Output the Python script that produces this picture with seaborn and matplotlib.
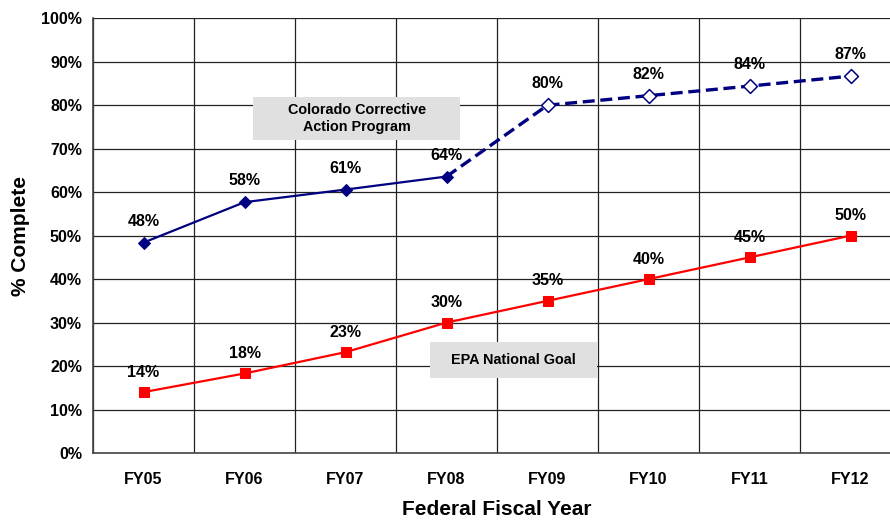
import numpy as np
import pandas as pd
import matplotlib
matplotlib.use("Agg")
import matplotlib.pyplot as plt
from matplotlib.patches import Rectangle
import seaborn as sns

# chart data
years = ["FY05", "FY06", "FY07", "FY08", "FY09", "FY10", "FY11", "FY12"]
colorado = [48.4, 57.7, 60.6, 63.6, 80.0, 82.2, 84.4, 86.7]
epa_goal = [14.0, 18.3, 23.2, 30.0, 35.0, 40.0, 45.0, 50.0]
actual_years = 4  # FY05-FY08 are actuals, the rest projected
y_ticks = list(range(0, 101, 10))

sns.set_style("white")
plt.rcParams["font.family"] = ["Liberation Sans", "DejaVu Sans"]
plt.rcParams["font.weight"] = "bold"
for key in ["text.color", "axes.labelcolor", "xtick.labelcolor", "ytick.labelcolor"]:
    plt.rcParams[key] = "black"

idx = np.arange(len(years))
df = pd.DataFrame({"pos": idx, "year": years, "colorado": colorado, "epa": epa_goal})
actual = df.iloc[:actual_years]
projected = df.iloc[actual_years - 1:]

fig = plt.figure(figsize=(8.9, 5.21), dpi=100)
ax = fig.add_axes([0.1045, 0.1305, 0.9079, 0.8344])

navy = "#000080"
red = "#FF0000"

# EPA goal
sns.lineplot(data=df, x="pos", y="epa", color=red, lw=1.6, marker="s",
             markersize=7.5, markeredgecolor=red, ax=ax, zorder=4)
# Colorado actuals (solid) and projection (dashed)
sns.lineplot(data=actual, x="pos", y="colorado", color=navy, lw=1.6, marker="D",
             markersize=6.5, markeredgecolor=navy, ax=ax, zorder=4)
sns.lineplot(data=projected, x="pos", y="colorado", color=navy, lw=2.4, ax=ax,
             zorder=4)
ax.lines[-1].set_dashes([3.6, 1.7])
sns.scatterplot(data=df.iloc[actual_years:], x="pos", y="colorado", marker="D",
                s=50, facecolor="white", edgecolor=navy, linewidth=1.1, ax=ax,
                zorder=5)

# value labels
for i, v in enumerate(colorado):
    ax.annotate(f"{round(v)}%", (i, v), xytext=(0, 10), textcoords="offset points",
                ha="center", va="bottom", fontsize=11.5, fontweight="bold")
for i, v in enumerate(epa_goal):
    ax.annotate(f"{round(v)}%", (i, v), xytext=(0, 9), textcoords="offset points",
                ha="center", va="bottom", fontsize=11.5, fontweight="bold")

# series name boxes
ax.add_patch(Rectangle((1.084, 72.0), 2.05, 9.8, fc="#E0E0E0", ec="none", zorder=3))
ax.text(2.11, 76.9, "Colorado Corrective\nAction Program", ha="center", va="center",
        fontsize=10.4, fontweight="bold", zorder=3, linespacing=1.25)
ax.add_patch(Rectangle((2.837, 17.2), 1.653, 8.3, fc="#E0E0E0", ec="none", zorder=3))
ax.text(3.66, 21.4, "EPA National Goal", ha="center", va="center",
        fontsize=10.4, fontweight="bold", zorder=3)

# axes and grid
ax.set_xlim(-0.5, 7.5)
ax.set_ylim(0, 100)
ax.set_xticks(np.arange(-0.5, 8, 1.0))
ax.set_xticklabels([])
ax.set_xticks(idx, minor=True)
ax.set_xticklabels(years, minor=True, fontsize=11.5, fontweight="bold")
ax.tick_params(axis="x", which="minor", length=0, pad=14)
ax.tick_params(axis="x", which="major", length=6, width=1, color="#444444",
               direction="out")
ax.set_yticks(y_ticks)
ax.set_yticklabels([f"{t}%" for t in y_ticks], fontsize=11.5, fontweight="bold")
ax.tick_params(axis="y", length=5, width=1, color="#444444", direction="out", pad=3)
ax.grid(True, which="major", color="#222222", lw=0.9)
ax.set_axisbelow(True)
for side in ["top", "right"]:
    ax.spines[side].set_visible(False)
for side in ["left", "bottom"]:
    ax.spines[side].set_color("#444444")
    ax.spines[side].set_linewidth(1.2)

ax.set_xlabel("Federal Fiscal Year", fontsize=15, fontweight="bold", labelpad=9)
ax.set_ylabel("% Complete", fontsize=15, fontweight="bold", labelpad=8)

fig.savefig("out.png", dpi=100)
